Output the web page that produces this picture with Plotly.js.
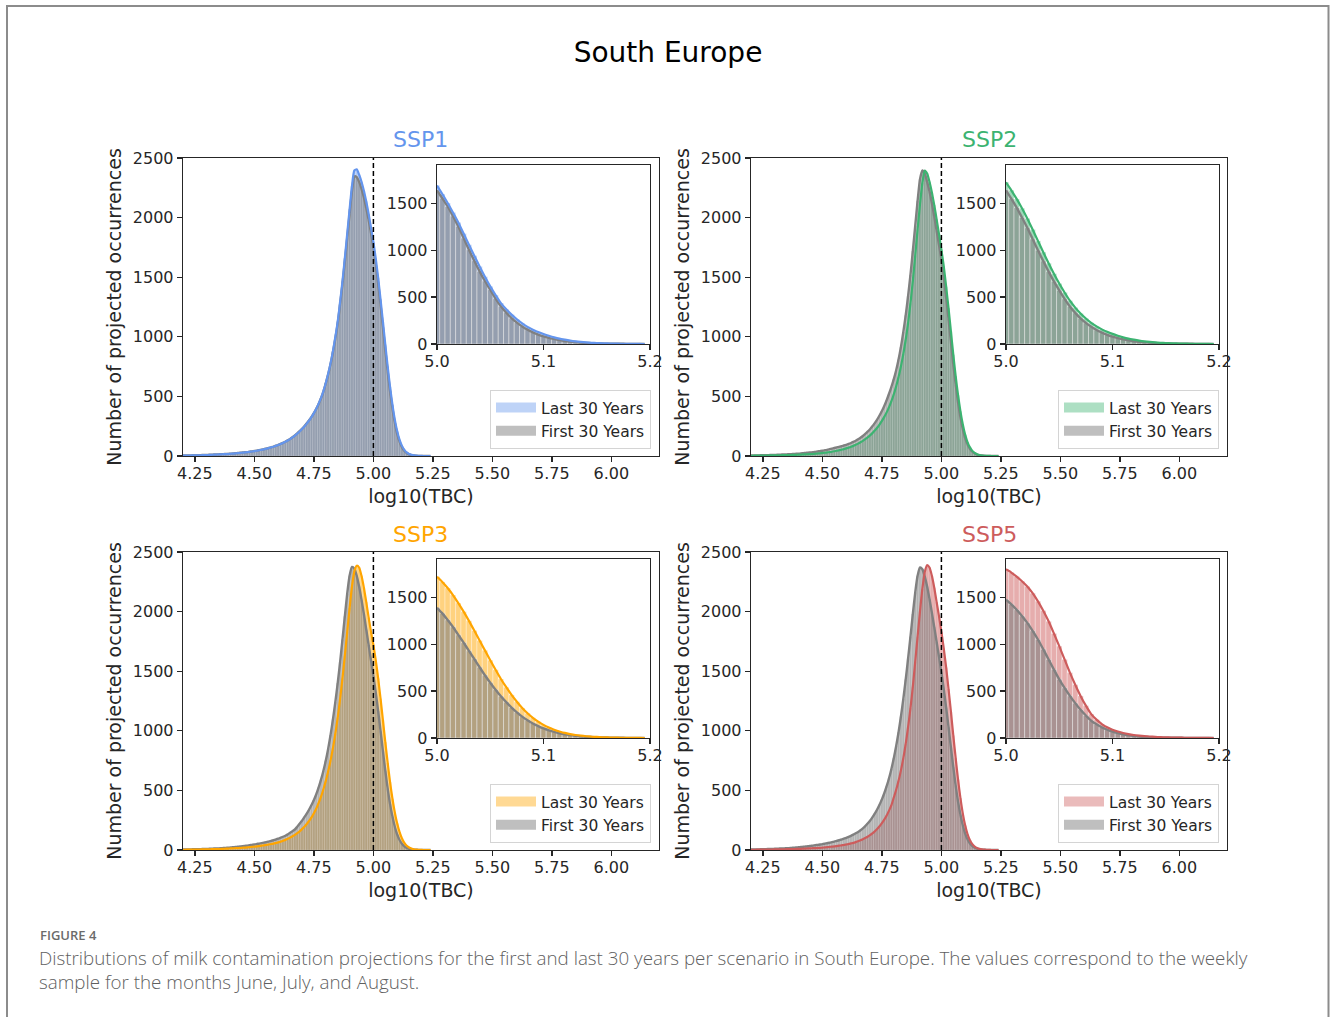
<!DOCTYPE html>
<html><head><meta charset="utf-8">
<script src="https://cdn.plot.ly/plotly-3.0.1.min.js"></script>
<style>html,body{margin:0;padding:0;background:#fff;}#chart{width:1330px;height:1017px;}</style>
</head><body><div id="chart"></div>
<script>
// ---------------- data ----------------
const scenarios = ['SSP1', 'SSP2', 'SSP3', 'SSP5'];
const scenarioColors = ['#6495ED', '#3CB371', '#FFA500', '#CD5C5C'];
const firstColor = '#808080';
const seriesNames = ['Last 30 Years', 'First 30 Years'];
const threshold = 5.0;

// main histograms: bin centres from 4.20 in steps of 0.01 (counts per 0.005-wide bin)
const mainBinStart = 4.20, mainBinWidth = 0.01;
// insets: bin centres from 5.000 in steps of 0.005
const insetBinStart = 5.0, insetBinWidth = 0.005;

const mainXTicks = [4.25, 4.50, 4.75, 5.00, 5.25, 5.50, 5.75, 6.00];
const mainXTickText = ['4.25', '4.50', '4.75', '5.00', '5.25', '5.50', '5.75', '6.00'];
const mainYTicks = [0, 500, 1000, 1500, 2000, 2500];
const insetXTicks = [5.0, 5.1, 5.2];
const insetXTickText = ['5.0', '5.1', '5.2'];
const insetYTicks = [0, 500, 1000, 1500];

const ssp1LastMain = [3,3,4,4,5,5,6,6,7,7, 8,9,10,11,12,13,14,15,16,17, 19,20,22,24,26,28,30,32,35,38,
  41,44,48,52,56,61,66,72,78,85, 92,100,109,119,130,142,156,171,188,206,
  226,248,272,298,327,360,397,439,487,544, 612,690,778,880,998,1128,1290,1465,1660,1865,
  2070,2265,2395,2405,2360,2300,2225,2135,2030,1915, 1795,1655,1495,1315,1125,935,750,580,430,305,
  208,135,85,52,30,17,10,5,3,1, 1,0,0,0,0];
const ssp1FirstMain = [4,4,5,5,6,6,7,7,8,8, 9,10,11,12,13,14,15,16,17,18, 20,21,23,25,27,29,31,33,36,39,
  42,45,49,53,57,62,67,73,79,86, 93,101,110,120,131,143,157,173,190,208,
  228,250,274,300,328,360,396,437,484,540, 610,685,770,870,985,1110,1270,1440,1630,1830,
  2030,2220,2345,2340,2300,2240,2170,2080,1980,1870, 1750,1610,1450,1270,1080,890,710,545,400,280,
  188,120,74,44,25,14,8,4,2,1, 1,0,0,0,0];
const ssp2LastMain = [2,2,3,3,3,4,4,4,5,5, 5,6,6,7,7,8,8,9,10,10, 11,12,13,14,15,16,17,19,21,23,
  25,27,30,33,36,40,44,48,53,58, 64,70,77,85,94,104,115,127,141,156,
  173,192,213,237,264,294,328,366,410,460, 518,585,662,752,856,975,1115,1280,1470,1680,
  1900,2110,2290,2395,2370,2300,2210,2105,1985,1860, 1730,1590,1420,1240,1045,850,670,510,375,265,
  178,115,72,43,26,15,8,4,2,1, 1,0,0,0,0];
const ssp2FirstMain = [4,4,5,5,6,6,7,7,8,8, 9,10,11,12,13,14,15,16,17,19, 20,22,24,26,28,30,32,35,38,41,
  44,48,52,57,62,67,72,77,82,88, 94,101,109,118,128,140,153,168,185,204,
  225,249,276,306,340,378,420,468,522,580, 645,720,810,915,1040,1180,1340,1520,1720,1930,
  2140,2320,2395,2370,2300,2220,2120,2010,1890,1770, 1650,1500,1330,1150,960,770,600,450,325,225,
  150,96,60,36,21,12,7,4,2,1, 0,0,0,0,0];
const ssp3LastMain = [2,2,3,3,3,4,4,4,5,5, 6,6,7,7,8,8,9,10,11,12, 13,14,15,16,17,19,20,22,24,26,
  28,30,33,36,39,42,46,50,54,59, 64,70,77,85,94,104,115,127,141,157,
  175,195,218,244,274,308,348,395,448,510, 580,660,750,855,975,1110,1265,1440,1630,1830,
  2030,2210,2340,2385,2370,2300,2200,2080,1950,1830, 1720,1590,1440,1270,1090,905,730,570,430,315,
  222,150,97,60,36,21,12,6,3,2, 1,0,0,0,0];
const ssp3FirstMain = [4,4,5,5,6,6,7,7,8,9, 9,10,11,12,13,14,15,17,18,20, 21,23,25,27,29,31,34,37,40,43,
  46,50,54,58,62,66,71,76,82,88, 95,103,111,120,131,145,158,172,195,220,
  245,275,305,340,378,420,468,525,590,665, 750,850,965,1095,1240,1400,1575,1765,1960,2150,
  2300,2375,2360,2300,2210,2100,1980,1850,1720,1590, 1460,1320,1165,1000,830,665,515,385,280,195,
  130,84,52,31,18,10,6,3,2,1, 0,0,0,0,0];
const ssp5LastMain = [2,2,2,3,3,3,3,4,4,4, 5,5,5,6,6,7,7,8,8,9, 10,10,11,12,13,14,15,16,17,18,
  20,22,24,26,28,30,33,36,39,42, 46,50,55,60,66,73,81,90,100,111,
  124,139,156,176,199,225,255,290,330,376, 440,505,580,668,770,890,1030,1190,1370,1580,
  1790,2000,2190,2330,2390,2370,2300,2200,2080,1960, 1830,1690,1530,1350,1160,960,770,590,435,305,
  205,132,82,49,28,16,9,5,3,1, 1,0,0,0,0];
const ssp5FirstMain = [4,4,5,5,6,6,7,8,8,9, 10,11,12,13,14,15,16,18,19,21, 23,25,27,29,31,34,37,40,43,46,
  49,53,57,61,66,71,76,82,88,95, 102,110,119,129,140,152,166,182,200,222,
  246,274,305,340,380,425,476,535,602,680, 770,872,988,1120,1268,1430,1605,1790,1980,2160,
  2300,2370,2355,2295,2210,2105,1990,1870,1745,1620, 1490,1350,1195,1030,860,695,540,405,295,205,
  138,88,55,33,19,11,6,3,2,1, 0,0,0,0,0];

const ssp1LastInset = [1690,1600,1505,1403,1297,1178,1059,942,828,718, 615,522,437,370,313,263,220,183,153,128,
  107,88,71,57,46,36,28,22,17,13, 10,8,6,4,3,2,2,1,1,0];
const ssp1FirstInset = [1640,1555,1468,1365,1255,1130,1006,888,775,672, 579,485,402,335,277,228,188,153,124,101,
  82,66,53,41,32,26,21,16,12,9, 7,5,4,3,2,2,1,1,1,0];
const ssp2LastInset = [1725,1640,1548,1448,1340,1222,1100,980,862,750, 645,550,462,388,325,272,226,188,156,130,
  108,88,71,57,46,36,28,22,17,13, 10,8,6,4,3,2,2,1,1,0];
const ssp2FirstInset = [1640,1550,1455,1350,1240,1120,1000,885,772,668, 572,482,400,332,274,225,184,150,121,98,
  79,63,50,39,30,24,19,15,11,8, 6,5,4,3,2,2,1,1,1,0];
const ssp3LastInset = [1720,1665,1600,1525,1440,1348,1250,1146,1040,935, 830,728,630,542,460,387,320,264,215,175,
  140,112,88,70,54,42,32,25,19,14, 11,8,6,4,3,2,2,1,1,0];
const ssp3FirstInset = [1390,1330,1260,1185,1100,1017,930,843,755,670, 590,515,445,382,325,274,228,190,155,127,
  102,82,65,51,40,32,24,18,14,11, 8,6,5,4,3,2,1,1,1,0];
const ssp5LastInset = [1800,1765,1723,1673,1617,1545,1458,1358,1245,1115, 980,838,697,568,449,345,255,196,149,114,
  88,69,53,41,32,26,21,16,12,9, 7,5,4,3,2,2,1,1,1,0];
const ssp5FirstInset = [1475,1425,1369,1302,1228,1143,1051,947,838,730, 626,534,449,372,301,240,184,146,113,88,
  67,52,39,30,21,16,12,9,7,5, 4,3,2,2,1,1,1,0,0,0];

const lastMain = [ssp1LastMain, ssp2LastMain, ssp3LastMain, ssp5LastMain];
const firstMain = [ssp1FirstMain, ssp2FirstMain, ssp3FirstMain, ssp5FirstMain];
const lastInset = [ssp1LastInset, ssp2LastInset, ssp3LastInset, ssp5LastInset];
const firstInset = [ssp1FirstInset, ssp2FirstInset, ssp3FirstInset, ssp5FirstInset];

// ---------------- layout helpers ----------------
const W = 1330, H = 1017;
const fx = p => p / W;
const fy = p => 1 - p / H;
const FONT = 'DejaVu Sans, Verdana, sans-serif';
const INK = '#262626';

function rgba(hex, a) {
  const n = parseInt(hex.slice(1), 16);
  return `rgba(${(n >> 16) & 255},${(n >> 8) & 255},${n & 255},${a})`;
}
const centres = (arr, start, step) => arr.map((_, i) => +(start + i * step).toFixed(4));

// panel geometry (pixels)
const cols = [{main: [183, 659], inset: [437, 650], title: 421, legendRight: 651},
              {main: [751, 1227], inset: [1006, 1219], title: 989, legendRight: 1219}];
const rows = [{main: [158, 456], inset: [165, 344], title: 140, legendBottom: 449},
              {main: [552, 850], inset: [559, 738], title: 534, legendBottom: 843}];

const axisStyle = {
  showline: true, mirror: true, linecolor: INK, linewidth: 1.3,
  ticks: 'outside', ticklen: 5, tickwidth: 1.3, tickcolor: INK,
  tickfont: {family: FONT, size: 16, color: INK},
  showgrid: false, zeroline: false, fixedrange: true
};

const traces = [];
const layout = {
  width: W, height: H,
  margin: {l: 0, r: 0, t: 0, b: 0},
  paper_bgcolor: '#ffffff', plot_bgcolor: '#ffffff',
  barmode: 'overlay', bargap: 0,
  showlegend: true, hovermode: false,
  title: {text: 'South Europe', x: fx(668), xanchor: 'center', y: fy(52), yanchor: 'middle',
          font: {family: FONT, size: 28, color: '#000'}},
  shapes: [], annotations: []
};

scenarios.forEach((name, k) => {
  const col = cols[k % 2], row = rows[Math.floor(k / 2)];
  const m = 2 * k + 1, n = 2 * k + 2;
  const xm = 'x' + (m === 1 ? '' : m), ym = 'y' + (m === 1 ? '' : m);
  const xi = 'x' + n, yi = 'y' + n;
  const color = scenarioColors[k];
  const legendId = k === 0 ? 'legend' : 'legend' + (k + 1);

  layout['xaxis' + (m === 1 ? '' : m)] = Object.assign({}, axisStyle, {
    domain: [fx(col.main[0]), fx(col.main[1])], range: [4.2, 6.2], anchor: ym,
    tickvals: mainXTicks, ticktext: mainXTickText, ticklabelstandoff: -3,
    title: {text: 'log10(TBC)', font: {family: FONT, size: 19, color: INK}, standoff: 8}
  });
  layout['yaxis' + (m === 1 ? '' : m)] = Object.assign({}, axisStyle, {
    domain: [fy(row.main[1]), fy(row.main[0])], range: [0, 2500], anchor: xm,
    tickvals: mainYTicks,
    title: {text: 'Number of projected occurrences', font: {family: FONT, size: 19, color: INK}, standoff: 6}
  });
  layout['xaxis' + n] = Object.assign({}, axisStyle, {
    domain: [fx(col.inset[0]), fx(col.inset[1])], range: [5.0, 5.2], anchor: yi,
    tickvals: insetXTicks, ticktext: insetXTickText, ticklabelstandoff: -3
  });
  layout['yaxis' + n] = Object.assign({}, axisStyle, {
    domain: [fy(row.inset[1]), fy(row.inset[0])], range: [0, 1910], anchor: xi,
    tickvals: insetYTicks
  });

  const mx = centres(lastMain[k], mainBinStart, mainBinWidth);
  const ix = centres(lastInset[k], insetBinStart, insetBinWidth);

  // main histogram bars
  traces.push({type: 'bar', x: mx, y: lastMain[k], width: mainBinWidth, xaxis: xm, yaxis: ym,
    marker: {color: rgba(color, 0.5), line: {color: 'rgba(255,255,255,0.35)', width: 0.3}}, showlegend: false});
  traces.push({type: 'bar', x: mx, y: firstMain[k], width: mainBinWidth, xaxis: xm, yaxis: ym,
    marker: {color: rgba(firstColor, 0.6), line: {color: 'rgba(255,255,255,0.35)', width: 0.3}}, showlegend: false});
  traces.push({type: 'scatter', mode: 'lines', x: mx, y: firstMain[k], xaxis: xm, yaxis: ym,
    line: {color: firstColor, width: 2.4, shape: 'spline', smoothing: 0.6}, showlegend: false});
  traces.push({type: 'scatter', mode: 'lines', x: mx, y: lastMain[k], xaxis: xm, yaxis: ym,
    line: {color: color, width: 2.2, shape: 'spline', smoothing: 0.6}, showlegend: false});

  // inset histogram bars
  traces.push({type: 'bar', x: ix, y: lastInset[k], width: insetBinWidth, xaxis: xi, yaxis: yi,
    marker: {color: rgba(color, 0.5), line: {color: 'rgba(255,255,255,0.55)', width: 0.6}}, showlegend: false});
  traces.push({type: 'bar', x: ix, y: firstInset[k], width: insetBinWidth, xaxis: xi, yaxis: yi,
    marker: {color: rgba(firstColor, 0.6), line: {color: 'rgba(255,255,255,0.55)', width: 0.6}}, showlegend: false});
  traces.push({type: 'scatter', mode: 'lines', x: ix, y: firstInset[k], xaxis: xi, yaxis: yi,
    line: {color: firstColor, width: 2.4, shape: 'spline', smoothing: 0.6}, showlegend: false});
  traces.push({type: 'scatter', mode: 'lines', x: ix, y: lastInset[k], xaxis: xi, yaxis: yi,
    line: {color: color, width: 2.2, shape: 'spline', smoothing: 0.6}, showlegend: false});

  // legend entries (wide patches like matplotlib)
  traces.push({type: 'scatter', mode: 'lines', x: [null], y: [null], xaxis: xm, yaxis: ym,
    name: seriesNames[0], legend: legendId, line: {color: rgba(color, 0.42), width: 11}});
  traces.push({type: 'scatter', mode: 'lines', x: [null], y: [null], xaxis: xm, yaxis: ym,
    name: seriesNames[1], legend: legendId, line: {color: rgba(firstColor, 0.5), width: 11}});

  layout[legendId] = {
    x: fx(col.legendRight), xanchor: 'right', y: fy(row.legendBottom), yanchor: 'bottom',
    bgcolor: '#ffffff', bordercolor: '#d4d4d4', borderwidth: 1,
    font: {family: FONT, size: 15.5, color: INK}, traceorder: 'normal', itemwidth: 40
  };

  // threshold line
  layout.shapes.push({type: 'line', xref: xm, yref: ym + ' domain', x0: threshold, x1: threshold, y0: 0, y1: 1,
    line: {color: '#000', width: 1.5, dash: '5px,3px'}});

  // scenario title
  layout.annotations.push({text: name, xref: 'paper', yref: 'paper', x: fx(col.title), y: fy(row.title),
    xanchor: 'center', yanchor: 'middle', showarrow: false, font: {family: FONT, size: 22, color: color}});
});

// figure frame
layout.shapes.push({type: 'rect', xref: 'paper', yref: 'paper', x0: fx(7), x1: fx(1328.5), y0: -0.05, y1: fy(6),
  line: {color: '#8c8c8c', width: 2}, layer: 'below'});

// caption
layout.annotations.push({text: 'FIGURE 4', xref: 'paper', yref: 'paper', x: fx(38), y: fy(935),
  xanchor: 'left', yanchor: 'middle', showarrow: false,
  font: {family: 'Open Sans, sans-serif', size: 13, color: '#6b6b6b', weight: 600}});
layout.annotations.push({
  text: 'Distributions of milk contamination projections for the first and last 30 years per scenario in South Europe. The values correspond to the weekly<br>sample for the months June, July, and August.',
  xref: 'paper', yref: 'paper', x: fx(37), y: fy(943), xanchor: 'left', yanchor: 'top', align: 'left',
  showarrow: false, font: {family: 'Open Sans, sans-serif', size: 18.8, color: '#5f5f5f', weight: 300}});

Plotly.newPlot('chart', traces, layout, {staticPlot: true, displayModeBar: false});
</script>
</body></html>
